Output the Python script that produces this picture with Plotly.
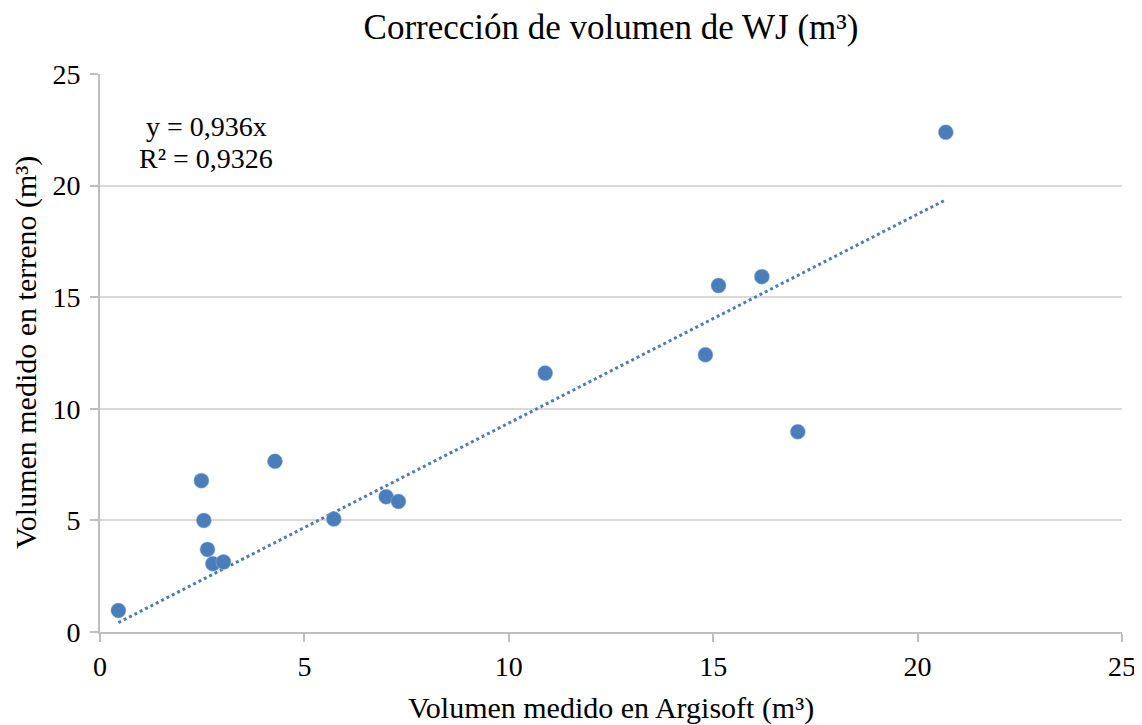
import plotly.graph_objects as go

argisoft = [0.45, 2.48, 2.54, 2.63, 2.76, 3.02, 4.28, 5.72, 7.00, 7.30,
            10.89, 14.81, 15.13, 16.19, 17.07, 20.69]
terreno = [0.96, 6.78, 5.00, 3.70, 3.06, 3.14, 7.65, 5.06, 6.06, 5.85,
           11.60, 12.42, 15.52, 15.92, 8.97, 22.39]
slope = 0.936
r2 = 0.9326

x_line = [min(argisoft), max(argisoft)]
y_line = [slope * v for v in x_line]

font = "Liberation Serif"
blue = "#4a7ebb"

# the page body adds an 8px offset, so the figure is drawn 8px smaller
W, H = 1134, 717
L, R, T, B = 92, 20, 66, 93
pw, ph = W - L - R, H - T - B


def px(x, y):
    # page pixel -> paper coords
    return (x - 8 - L) / pw, (H - (y - 8) - B) / ph


fig = go.Figure()
fig.add_trace(go.Scatter(
    x=x_line, y=y_line, mode="lines",
    line=dict(color=blue, width=3, dash="dot"),
    hoverinfo="skip", showlegend=False
))
fig.add_trace(go.Scatter(
    x=argisoft, y=terreno, mode="markers",
    marker=dict(color=blue, size=15, line=dict(color="#8fb0d8", width=0.5)),
    showlegend=False
))

eq_txt = "y = " + f"{slope:.3f}".replace(".", ",") + "x"
r2_txt = "R² = " + f"{r2:.4f}".replace(".", ",")
for txt, (ax, ay) in [(eq_txt, px(206, 127)), (r2_txt, px(206, 158))]:
    fig.add_annotation(x=ax, y=ay, xref="paper", yref="paper", text=txt,
                       xanchor="center", yanchor="middle", showarrow=False,
                       font=dict(family=font, size=28, color="black"))

# axis titles
tx, ty = px(611, 708)
fig.add_annotation(x=tx, y=ty, xref="paper", yref="paper",
                   text="Volumen medido en Argisoft (m³)",
                   xanchor="center", yanchor="middle", showarrow=False,
                   font=dict(family=font, size=30, color="black"))
tx, ty = px(26, 353)
fig.add_annotation(x=tx, y=ty, xref="paper", yref="paper",
                   text="Volumen medido en terreno (m³)", textangle=-90,
                   xanchor="center", yanchor="middle", showarrow=False,
                   font=dict(family=font, size=30, color="black"))

fig.update_layout(
    width=W, height=H,
    margin=dict(l=L, r=R, t=T, b=B),
    paper_bgcolor="white", plot_bgcolor="white",
    font=dict(family=font, size=25, color="black"),
    title=dict(text="Corrección de volumen de WJ (m³)", x=px(611, 0)[0],
               xref="paper", xanchor="center", y=1 - 19 / H, yanchor="middle",
               font=dict(family=font, size=35)),
    xaxis=dict(
        range=[0, 25], tickvals=[0, 5, 10, 15, 20, 25],
        tickfont=dict(size=28),
        showgrid=False, zeroline=False, automargin=False,
        showline=True, linecolor="#bfbfbf", linewidth=2,
        ticks="outside", ticklen=8, tickcolor="#bfbfbf", tickwidth=2,
    ),
    yaxis=dict(
        range=[0, 25], tickvals=[0, 5, 10, 15, 20, 25],
        tickfont=dict(size=28), ticklabelstandoff=4,
        showgrid=True, gridcolor="#d9d9d9", gridwidth=2, zeroline=False,
        automargin=False,
        showline=True, linecolor="#bfbfbf", linewidth=2,
        ticks="outside", ticklen=8, tickcolor="#bfbfbf", tickwidth=2,
    ),
)

fig.write_html("out.html")
